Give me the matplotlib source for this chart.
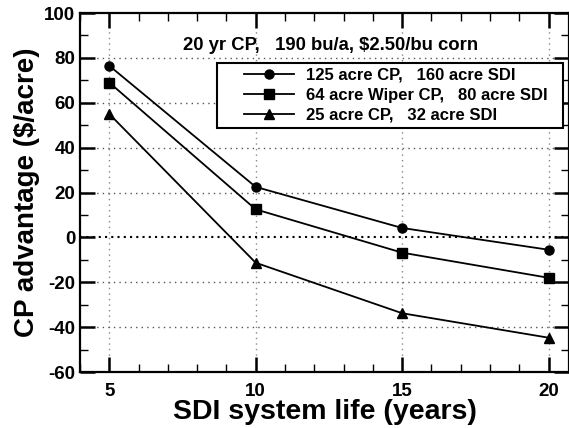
import matplotlib
matplotlib.use('Agg')
import matplotlib.pyplot as plt
from matplotlib.patches import Rectangle
from matplotlib.ticker import MultipleLocator

plt.rcParams['font.family'] = ['Liberation Sans', 'DejaVu Sans']
plt.rcParams['font.weight'] = 'bold'
plt.rcParams['axes.unicode_minus'] = False

years = [5, 10, 15, 20]
cp125 = [76.5, 22.5, 4.2, -5.5]
cp64 = [69, 12.5, -6.8, -18]
cp25 = [55, -11.3, -33.8, -44.7]

labels = ['125 acre CP,   160 acre SDI',
          '64 acre Wiper CP,   80 acre SDI',
          '25 acre CP,   32 acre SDI']
note = '20 yr CP,   190 bu/a, $2.50/bu corn'

fig = plt.figure(figsize=(5.69, 4.28), dpi=100)
ax = fig.add_axes([0.1406, 0.1308, 0.8594, 0.8388])

# grid
for xv in years:
    ax.axvline(xv, color='#888888', ls=(0, (1, 3)), lw=1, zorder=0)
for yv in [-40, -20, 20, 40, 60, 80]:
    ax.axhline(yv, color='#555555', ls=(0, (1, 3)), lw=1, zorder=0)
ax.axhline(0, color='black', ls=(0, (1, 2)), lw=1.5, zorder=0)

ax.plot(years, cp125, 'k-', marker='o', ms=6.5, lw=1.3, label=labels[0])
ax.plot(years, cp64, 'k-', marker='s', ms=6.5, lw=1.3, label=labels[1])
ax.plot(years, cp25, 'k-', marker='^', ms=6.5, lw=1.3, label=labels[2])

ax.set_xlim(4, 20.7)
ax.set_ylim(-60, 100)
ax.xaxis.set_major_locator(MultipleLocator(5))
ax.xaxis.set_minor_locator(MultipleLocator(1))
ax.yaxis.set_major_locator(MultipleLocator(20))
ax.yaxis.set_minor_locator(MultipleLocator(10))
ax.tick_params(which='both', direction='in', top=True, right=True, labelsize=13.5)
ax.tick_params(which='major', length=11, width=1.8)
ax.tick_params(which='minor', length=6, width=1)
ax.tick_params(axis='x', which='major', pad=8)
ax.tick_params(axis='y', which='major', pad=3.5)
for lab in ax.get_xticklabels() + ax.get_yticklabels():
    lab.set_fontweight('bold')
for s in ax.spines.values():
    s.set_linewidth(1.6)

ax.set_xlabel('SDI system life (years)', fontsize=20.5, fontweight='bold', labelpad=-1)
ax.set_ylabel('CP advantage ($/acre)', fontsize=20, fontweight='bold', labelpad=3)

ax.text(0.512, 0.91, note, transform=ax.transAxes, ha='center', va='center',
        fontsize=13.3, fontweight='bold')

# legend box drawn separately (wider side padding than matplotlib's frame)
ax.add_patch(Rectangle((0.280, 0.680), 0.708, 0.181, transform=ax.transAxes,
                       fill=True, facecolor='white', edgecolor='black', lw=1.5,
                       zorder=4))
leg = ax.legend(loc='upper left', bbox_to_anchor=(0.336, 0.848), fontsize=12,
                frameon=False, handlelength=3.0, borderpad=0,
                labelspacing=0.3, handletextpad=0.7, borderaxespad=0)
leg.set_zorder(5)
for t in leg.get_texts():
    t.set_fontweight('bold')

fig.savefig('out.png', dpi=100)
